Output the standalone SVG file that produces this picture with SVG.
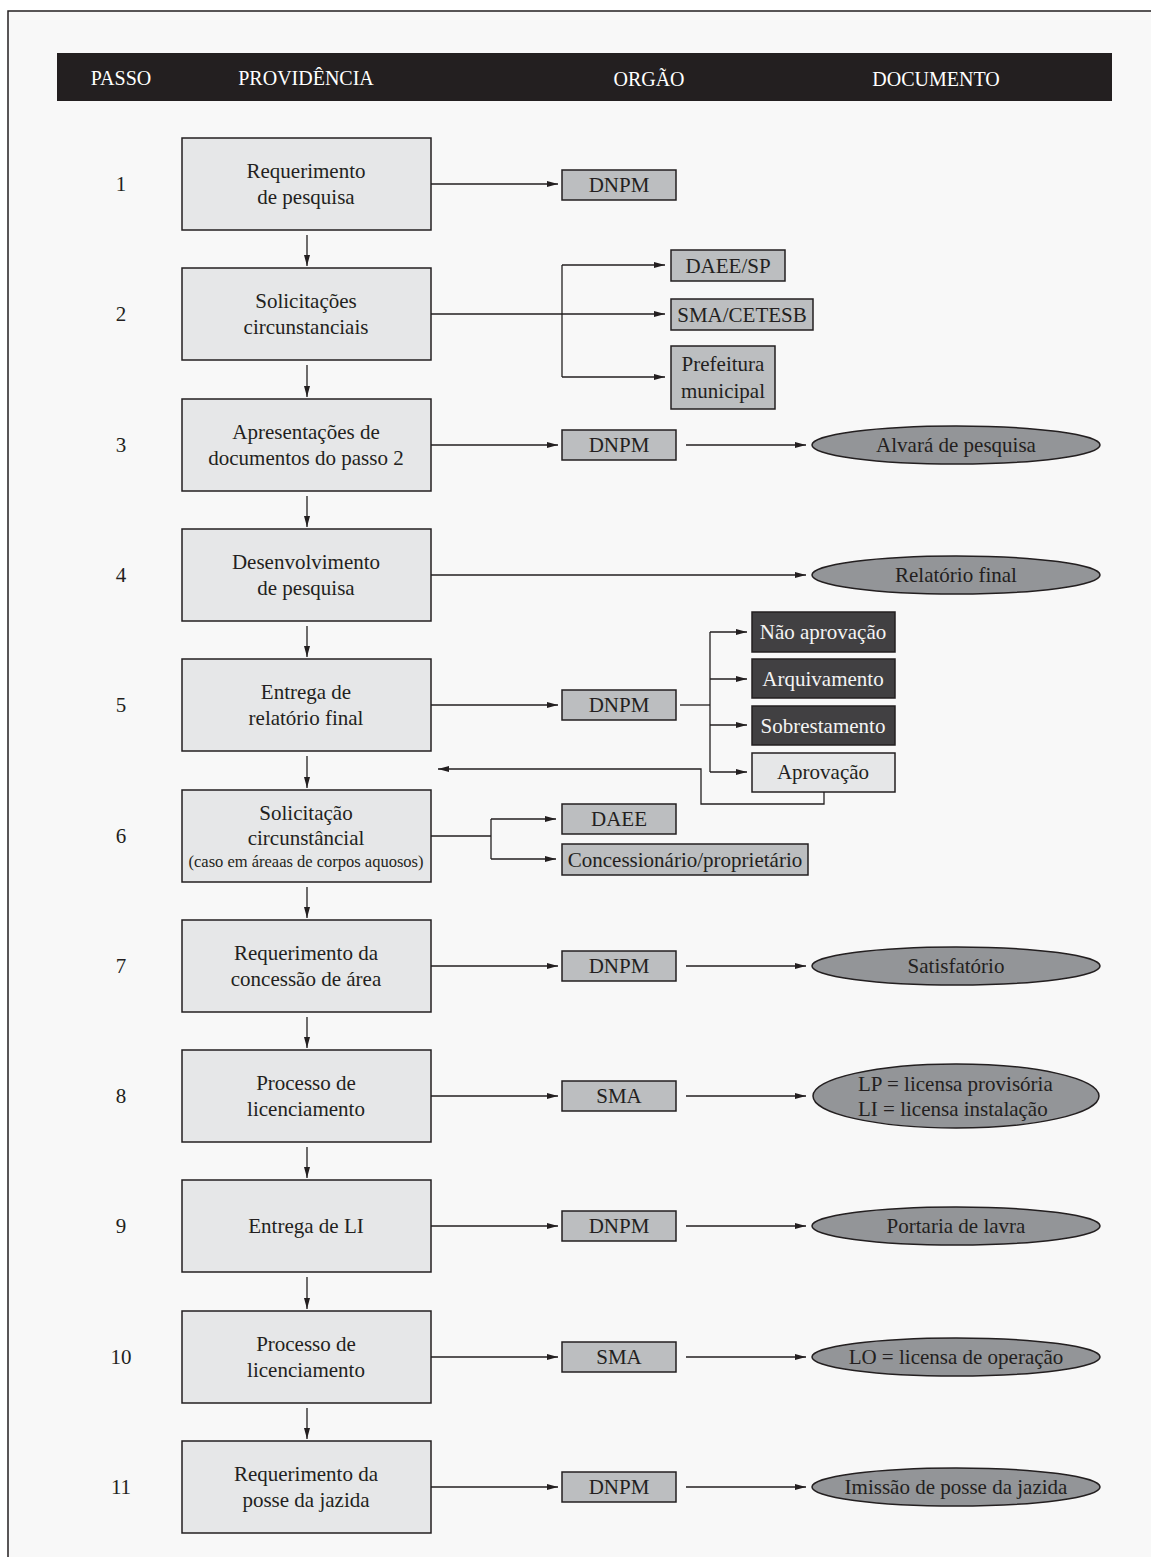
<svg xmlns="http://www.w3.org/2000/svg" width="1151" height="1557" viewBox="0 0 1151 1557">
<defs>
<style>
text{font-family:"Liberation Serif","Times New Roman",serif;fill:#231f20;font-size:21px;text-anchor:middle}
.hd{fill:#ffffff;font-size:20px}
.step{fill:#e6e7e8;stroke:#231f20;stroke-width:1.5}
.org{fill:#bcbec0;stroke:#231f20;stroke-width:1.5}
.dark{fill:#414042;stroke:#231f20;stroke-width:1.5}
.lt{fill:#e6e7e8;stroke:#231f20;stroke-width:1.5}
.doc{fill:#939598;stroke:#231f20;stroke-width:1.5}
.wt{fill:#f4f4f4}
.sm{font-size:16.5px}
.ln{fill:none;stroke:#231f20;stroke-width:1.3}
.ar{fill:none;stroke:#231f20;stroke-width:1.3;marker-end:url(#ah)}
</style>
<marker id="ah" markerUnits="userSpaceOnUse" markerWidth="11" markerHeight="7" refX="11" refY="3.5" orient="auto">
<path d="M0,0.5 L11,3.5 L0,6.5 z" fill="#231f20"/>
</marker>
</defs>
<rect x="0" y="0" width="1151" height="1557" fill="#ffffff"/>
<rect x="8" y="11" width="1143" height="1546" fill="#f8f8f8"/>
<path d="M8,1557 V11 H1151" fill="none" stroke="#231f20" stroke-width="1.5"/>

<g id="header">
<rect x="57" y="53" width="1055" height="48" fill="#231f20"/>
<text class="hd" x="121" y="85">PASSO</text>
<text class="hd" x="306" y="85">PROVIDÊNCIA</text>
<text class="hd" x="649" y="86">ORGÃO</text>
<text class="hd" x="936" y="86">DOCUMENTO</text>
</g>

<g id="numbers">
<text x="121" y="191">1</text>
<text x="121" y="321">2</text>
<text x="121" y="452">3</text>
<text x="121" y="582">4</text>
<text x="121" y="712">5</text>
<text x="121" y="843">6</text>
<text x="121" y="973">7</text>
<text x="121" y="1103">8</text>
<text x="121" y="1233">9</text>
<text x="121" y="1364">10</text>
<text x="121" y="1494">11</text>
</g>

<g id="connectors">
<line class="ar" x1="307" y1="235" x2="307" y2="266"/>
<line class="ar" x1="307" y1="365" x2="307" y2="397"/>
<line class="ar" x1="307" y1="496" x2="307" y2="527"/>
<line class="ar" x1="307" y1="626" x2="307" y2="657"/>
<line class="ar" x1="307" y1="756" x2="307" y2="788"/>
<line class="ar" x1="307" y1="887" x2="307" y2="918"/>
<line class="ar" x1="307" y1="1017" x2="307" y2="1048"/>
<line class="ar" x1="307" y1="1147" x2="307" y2="1178"/>
<line class="ar" x1="307" y1="1277" x2="307" y2="1309"/>
<line class="ar" x1="307" y1="1408" x2="307" y2="1439"/>
<line class="ar" x1="431" y1="184" x2="558" y2="184"/>
<line class="ar" x1="431" y1="445" x2="558" y2="445"/>
<line class="ar" x1="431" y1="705" x2="558" y2="705"/>
<line class="ar" x1="431" y1="966" x2="558" y2="966"/>
<line class="ar" x1="431" y1="1096" x2="558" y2="1096"/>
<line class="ar" x1="431" y1="1226" x2="558" y2="1226"/>
<line class="ar" x1="431" y1="1357" x2="558" y2="1357"/>
<line class="ar" x1="431" y1="1487" x2="558" y2="1487"/>
<line class="ar" x1="686" y1="445" x2="806" y2="445"/>
<line class="ar" x1="686" y1="966" x2="806" y2="966"/>
<line class="ar" x1="686" y1="1096" x2="806" y2="1096"/>
<line class="ar" x1="686" y1="1226" x2="806" y2="1226"/>
<line class="ar" x1="686" y1="1357" x2="806" y2="1357"/>
<line class="ar" x1="686" y1="1487" x2="806" y2="1487"/>
<line class="ar" x1="431" y1="575" x2="806" y2="575"/>
<line class="ar" x1="431" y1="314" x2="665" y2="314"/>
<line class="ln" x1="562" y1="265" x2="562" y2="377"/>
<line class="ar" x1="562" y1="265" x2="665" y2="265"/>
<line class="ar" x1="562" y1="377" x2="665" y2="377"/>
<line class="ln" x1="680" y1="705" x2="710" y2="705"/>
<line class="ln" x1="710" y1="632" x2="710" y2="772"/>
<line class="ar" x1="710" y1="632" x2="747" y2="632"/>
<line class="ar" x1="710" y1="679" x2="747" y2="679"/>
<line class="ar" x1="710" y1="725" x2="747" y2="725"/>
<line class="ar" x1="710" y1="772" x2="747" y2="772"/>
<path class="ar" d="M824,792 V804 H701 V769 H438"/>
<line class="ln" x1="431" y1="836" x2="491" y2="836"/>
<line class="ln" x1="491" y1="819" x2="491" y2="859"/>
<line class="ar" x1="491" y1="819" x2="556" y2="819"/>
<line class="ar" x1="491" y1="859" x2="556" y2="859"/>
</g>

<g id="step1"><rect class="step" x="182" y="138" width="249" height="92"/><text x="306" y="178">Requerimento</text><text x="306" y="204">de pesquisa</text></g>
<g id="step2"><rect class="step" x="182" y="268" width="249" height="92"/><text x="306" y="308">Solicitações</text><text x="306" y="334">circunstanciais</text></g>
<g id="step3"><rect class="step" x="182" y="399" width="249" height="92"/><text x="306" y="439">Apresentações de</text><text x="306" y="465">documentos do passo 2</text></g>
<g id="step4"><rect class="step" x="182" y="529" width="249" height="92"/><text x="306" y="569">Desenvolvimento</text><text x="306" y="595">de pesquisa</text></g>
<g id="step5"><rect class="step" x="182" y="659" width="249" height="92"/><text x="306" y="699">Entrega de</text><text x="306" y="725">relatório final</text></g>
<g id="step6"><rect class="step" x="182" y="790" width="249" height="92"/><text x="306" y="820">Solicitação</text><text x="306" y="845">circunstâncial</text><text class="sm" x="306" y="867">(caso em áreaas de corpos aquosos)</text></g>
<g id="step7"><rect class="step" x="182" y="920" width="249" height="92"/><text x="306" y="960">Requerimento da</text><text x="306" y="986">concessão de área</text></g>
<g id="step8"><rect class="step" x="182" y="1050" width="249" height="92"/><text x="306" y="1090">Processo de</text><text x="306" y="1116">licenciamento</text></g>
<g id="step9"><rect class="step" x="182" y="1180" width="249" height="92"/><text x="306" y="1233">Entrega de LI</text></g>
<g id="step10"><rect class="step" x="182" y="1311" width="249" height="92"/><text x="306" y="1351">Processo de</text><text x="306" y="1377">licenciamento</text></g>
<g id="step11"><rect class="step" x="182" y="1441" width="249" height="92"/><text x="306" y="1481">Requerimento da</text><text x="306" y="1507">posse da jazida</text></g>

<g id="org1"><rect class="org" x="562" y="170" width="114" height="30"/><text x="619" y="192">DNPM</text></g>
<g id="org2a"><rect class="org" x="671" y="250" width="114" height="31"/><text x="728" y="273">DAEE/SP</text></g>
<g id="org2b"><rect class="org" x="671" y="299" width="142" height="31"/><text x="742" y="322">SMA/CETESB</text></g>
<g id="org2c"><rect class="org" x="671" y="346" width="104" height="63"/><text x="723" y="371">Prefeitura</text><text x="723" y="398">municipal</text></g>
<g id="org3"><rect class="org" x="562" y="430" width="114" height="30"/><text x="619" y="452">DNPM</text></g>
<g id="org5"><rect class="org" x="562" y="690" width="114" height="30"/><text x="619" y="712">DNPM</text></g>
<g id="res5a"><rect class="dark" x="752" y="612" width="143" height="40"/><text class="wt" x="823" y="639">Não aprovação</text></g>
<g id="res5b"><rect class="dark" x="752" y="659" width="143" height="39"/><text class="wt" x="823" y="686">Arquivamento</text></g>
<g id="res5c"><rect class="dark" x="752" y="706" width="143" height="39"/><text class="wt" x="823" y="733">Sobrestamento</text></g>
<g id="res5d"><rect class="lt" x="752" y="753" width="143" height="39"/><text x="823" y="779">Aprovação</text></g>
<g id="org6a"><rect class="org" x="562" y="804" width="114" height="30"/><text x="619" y="826">DAEE</text></g>
<g id="org6b"><rect class="org" x="562" y="844" width="246" height="31"/><text x="685" y="867">Concessionário/proprietário</text></g>
<g id="org7"><rect class="org" x="562" y="951" width="114" height="30"/><text x="619" y="973">DNPM</text></g>
<g id="org8"><rect class="org" x="562" y="1081" width="114" height="30"/><text x="619" y="1103">SMA</text></g>
<g id="org9"><rect class="org" x="562" y="1211" width="114" height="30"/><text x="619" y="1233">DNPM</text></g>
<g id="org10"><rect class="org" x="562" y="1342" width="114" height="30"/><text x="619" y="1364">SMA</text></g>
<g id="org11"><rect class="org" x="562" y="1472" width="114" height="30"/><text x="619" y="1494">DNPM</text></g>

<g id="doc3"><ellipse class="doc" cx="956" cy="445" rx="144" ry="19"/><text x="956" y="452">Alvará de pesquisa</text></g>
<g id="doc4"><ellipse class="doc" cx="956" cy="575" rx="144" ry="19"/><text x="956" y="582">Relatório final</text></g>
<g id="doc7"><ellipse class="doc" cx="956" cy="966" rx="144" ry="19"/><text x="956" y="973">Satisfatório</text></g>
<g id="doc8"><ellipse class="doc" cx="956" cy="1096" rx="143" ry="32"/><text x="858" y="1091" style="text-anchor:start">LP = licensa provisória</text><text x="858" y="1116" style="text-anchor:start">LI = licensa instalação</text></g>
<g id="doc9"><ellipse class="doc" cx="956" cy="1226" rx="144" ry="19"/><text x="956" y="1233">Portaria de lavra</text></g>
<g id="doc10"><ellipse class="doc" cx="956" cy="1357" rx="144" ry="19"/><text x="956" y="1364">LO = licensa de operação</text></g>
<g id="doc11"><ellipse class="doc" cx="956" cy="1487" rx="144" ry="19"/><text x="956" y="1494">Imissão de posse da jazida</text></g>
</svg>
